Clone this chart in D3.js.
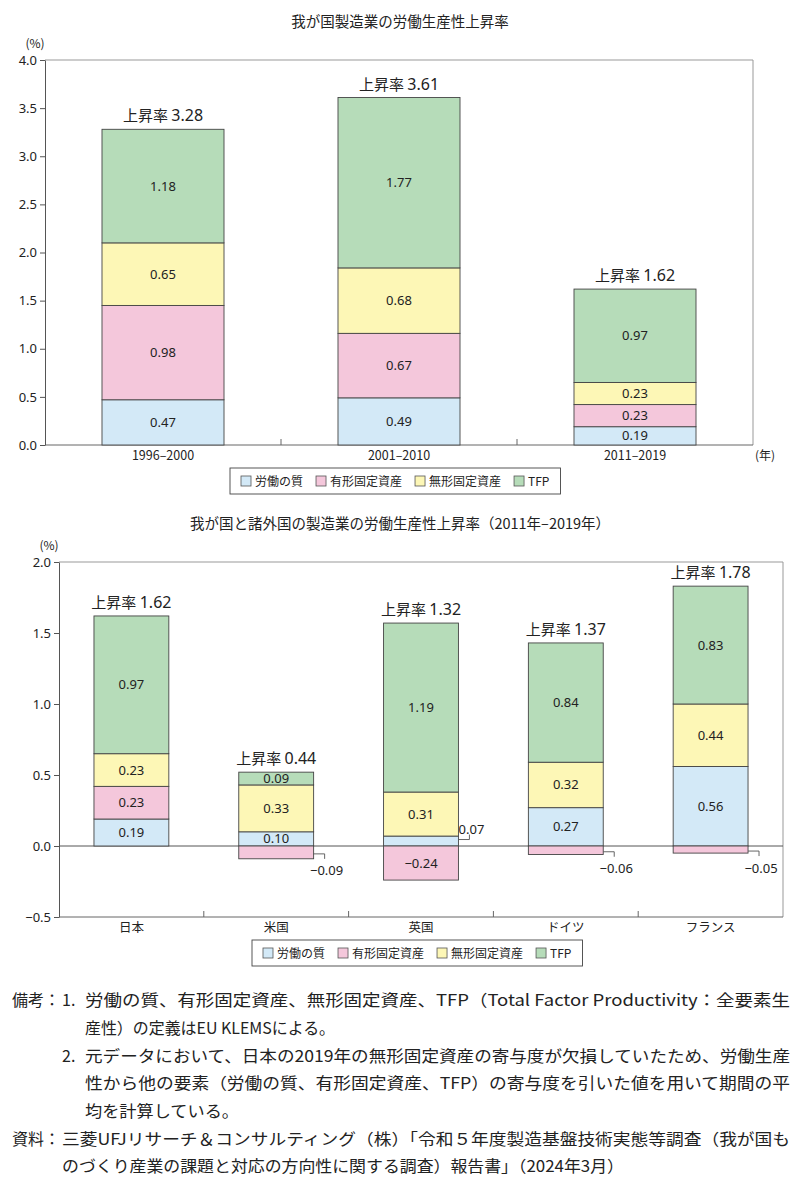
<!DOCTYPE html>
<html>
<head>
<meta charset="utf-8">
<script src="https://cdn.jsdelivr.net/npm/d3@7"></script>
<style>
  body { margin: 0; background: #fff; }
  svg text { font-family: "Noto Sans CJK JP", "Noto Sans", sans-serif; fill: #222; }
  svg .num { font-family: "Noto Sans", "DejaVu Sans", sans-serif; }
</style>
</head>
<body>
<div class="chart"></div>
<script>
let width = 800,
    height = 1181;

// series
const seriesKeys = ["labor", "tangible", "intangible", "tfp"];
const seriesNames = ["労働の質", "有形固定資産", "無形固定資産", "TFP"];
const seriesColors = ["#d3e9f7", "#f4c7db", "#fdf7b6", "#b6dcb9"];

// top chart: Japan by period
const periods = ["1996–2000", "2001–2010", "2011–2019"];
const periodLabor = [0.47, 0.49, 0.19];
const periodTangible = [0.98, 0.67, 0.23];
const periodIntangible = [0.65, 0.68, 0.23];
const periodTfp = [1.18, 1.77, 0.97];
const periodTotal = [3.28, 3.61, 1.62];
const topTicks = [0, 0.5, 1, 1.5, 2, 2.5, 3, 3.5, 4];

// bottom chart: countries 2011-2019
const countries = ["日本", "米国", "英国", "ドイツ", "フランス"];
const countryLabor = [0.19, 0.10, 0.07, 0.27, 0.56];
const countryTangible = [0.23, -0.09, -0.24, -0.06, -0.05];
const countryIntangible = [0.23, 0.33, 0.31, 0.32, 0.44];
const countryTfp = [0.97, 0.09, 1.19, 0.84, 0.83];
const countryTotal = [1.62, 0.44, 1.32, 1.37, 1.78];
const bottomTicks = [-0.5, 0, 0.5, 1, 1.5, 2];

// small segments labelled outside the bar
const callouts = [
    { cat: "米国", key: "tangible" },
    { cat: "英国", key: "labor" },
    { cat: "ドイツ", key: "tangible" },
    { cat: "フランス", key: "tangible" }
];

const notes = [
    { head: "備考：", num: "1.", text: "労働の質、有形固定資産、無形固定資産、TFP（Total Factor Productivity：全要素生", w: 705 },
    { text: "産性）の定義はEU KLEMSによる。", w: 250 },
    { num: "2.", text: "元データにおいて、日本の2019年の無形固定資産の寄与度が欠損していたため、労働生産", w: 705 },
    { text: "性から他の要素（労働の質、有形固定資産、TFP）の寄与度を引いた値を用いて期間の平", w: 705 },
    { text: "均を計算している。", w: 154 }
];
const sources = [
    { head: "資料：", text: "三菱UFJリサーチ＆コンサルティング（株）「令和５年度製造基盤技術実態等調査（我が国も", w: 728 },
    { text: "のづくり産業の課題と対応の方向性に関する調査）報告書」（2024年3月）", w: 562 }
];

function rows(cats, labor, tangible, intangible, tfp) {
    return cats.map((c, i) => ({
        cat: c, labor: labor[i], tangible: tangible[i], intangible: intangible[i], tfp: tfp[i]
    }));
}

const color = d3.scaleOrdinal().domain(seriesKeys).range(seriesColors);

const svg = d3.select(".chart").append("svg")
    .attr("width", width)
    .attr("height", height);

function drawChart(opt) {
    const data = rows(opt.cats, opt.labor, opt.tangible, opt.intangible, opt.tfp);
    const x = d3.scaleBand().domain(opt.cats)
        .range([opt.left, opt.right])
        .paddingInner(0.483).paddingOuter(0.2415);
    const y = d3.scaleLinear().domain(opt.domain).range([opt.bottom, opt.top]);
    const g = svg.append("g");

    g.append("text")
        .attr("x", 400).attr("y", opt.titleY)
        .attr("text-anchor", "middle")
        .style("font-size", "14.5px")
        .text(opt.title);

    g.append("text")
        .attr("x", opt.left - 10).attr("y", opt.top - 12)
        .attr("text-anchor", "middle")
        .style("font-size", "12px")
        .text("(%)");

    // frame
    g.append("path")
        .attr("d", `M${opt.left},${opt.top}H${opt.right}V${opt.bottom}`)
        .attr("fill", "none").attr("stroke", "#999").attr("stroke-width", 1);
    g.append("line")
        .attr("x1", opt.left).attr("x2", opt.right)
        .attr("y1", opt.bottom).attr("y2", opt.bottom)
        .attr("stroke", "#666");

    // between-category ticks
    opt.cats.slice(1).forEach(c => {
        const xx = x(c) - x.step() * x.paddingInner() / 2;
        g.append("line")
            .attr("x1", xx).attr("x2", xx)
            .attr("y1", opt.bottom).attr("y2", opt.bottom - 6)
            .attr("stroke", "#666");
    });

    // y axis
    const yAxis = g.append("g")
        .attr("transform", `translate(${opt.left},0)`)
        .call(d3.axisLeft(y).tickValues(opt.ticks).tickFormat(d3.format(".1f")).tickSize(5).tickSizeOuter(0));
    yAxis.select(".domain").attr("stroke", "#555");
    yAxis.selectAll(".tick line").attr("stroke", "#555");
    yAxis.selectAll(".tick text")
        .style("font-size", "13px")
        .style("font-family", "\"Noto Sans\", sans-serif")
        .attr("fill", "#222");

    // zero line
    if (opt.domain[0] < 0) {
        g.append("line")
            .attr("x1", opt.left).attr("x2", opt.right)
            .attr("y1", y(0)).attr("y2", y(0))
            .attr("stroke", "#555");
    }

    // category labels
    opt.cats.forEach(c => {
        g.append("text")
            .attr("x", x(c) + x.bandwidth() / 2).attr("y", opt.bottom + 15)
            .attr("text-anchor", "middle")
            .style("font-size", "12.5px")
            .text(c);
    });
    if (opt.unit) {
        g.append("text")
            .attr("x", opt.right + 12).attr("y", opt.bottom + 15)
            .attr("text-anchor", "middle")
            .style("font-size", "12px")
            .text(opt.unit);
    }

    const stacked = d3.stack().keys(seriesKeys).offset(d3.stackOffsetDiverging)(data);

    stacked.forEach(layer => {
        layer.forEach(seg => {
            const cat = seg.data.cat;
            const v = seg.data[layer.key];
            const y0 = y(Math.max(seg[0], seg[1])),
                  y1 = y(Math.min(seg[0], seg[1]));
            g.append("rect")
                .attr("x", x(cat)).attr("y", y0)
                .attr("width", x.bandwidth()).attr("height", y1 - y0)
                .attr("fill", color(layer.key))
                .attr("stroke", "#444").attr("stroke-width", 0.9);

            const fmt = v < 0 ? "−" + d3.format(".2f")(-v) : d3.format(".2f")(v);
            const isCall = callouts.some(c => c.cat === cat && c.key === layer.key);
            if (isCall) {
                const bx = x(cat) + x.bandwidth();
                const my = (y0 + y1) / 2;
                const dir = v < 0 ? 1 : -1;
                g.append("path")
                    .attr("d", `M${bx},${my + dir * 1.5}H${bx + 11}V${my + dir * 6.5}`)
                    .attr("fill", "none").attr("stroke", "#555").attr("stroke-width", 0.9);
                g.append("text")
                    .attr("class", "num")
                    .attr("x", bx + 13)
                    .attr("y", v < 0 ? my + 23 : my - 7)
                    .attr("text-anchor", "middle")
                    .style("font-size", "13px")
                    .text(fmt);
            } else {
                g.append("text")
                    .attr("class", "num")
                    .attr("x", x(cat) + x.bandwidth() / 2)
                    .attr("y", (y0 + y1) / 2 + 4.5)
                    .attr("text-anchor", "middle")
                    .style("font-size", "13px")
                    .text(fmt);
            }
        });
    });

    // totals
    opt.cats.forEach((c, i) => {
        const posTop = d3.sum(seriesKeys, k => Math.max(0, data[i][k]));
        const t = g.append("text")
            .attr("x", x(c) + x.bandwidth() / 2)
            .attr("y", y(posTop) - 8)
            .attr("text-anchor", "middle")
            .style("font-size", "15px");
        t.append("tspan").text("上昇率 ");
        t.append("tspan").attr("class", "num").style("font-size", "16px")
            .text(d3.format(".2f")(opt.total[i]));
    });

    // legend
    const lg = g.append("g");
    let lx = opt.legendX + 11;
    seriesKeys.forEach((k, i) => {
        lg.append("rect")
            .attr("x", lx).attr("y", opt.legendY + 8)
            .attr("width", 10).attr("height", 10)
            .attr("fill", color(k)).attr("stroke", "#555").attr("stroke-width", 0.8);
        const t = lg.append("text")
            .attr("x", lx + 14).attr("y", opt.legendY + 17.5)
            .style("font-size", "12px")
            .text(seriesNames[i]);
        lx += 14 + t.node().getComputedTextLength() + 13;
    });
    lg.insert("rect", ":first-child")
        .attr("x", opt.legendX).attr("y", opt.legendY)
        .attr("width", lx - opt.legendX - 2).attr("height", 26)
        .attr("fill", "#fff").attr("stroke", "#444").attr("stroke-width", 0.9);
}

drawChart({
    title: "我が国製造業の労働生産性上昇率",
    titleY: 27,
    cats: periods, labor: periodLabor, tangible: periodTangible,
    intangible: periodIntangible, tfp: periodTfp, total: periodTotal,
    domain: [0, 4], ticks: topTicks,
    left: 45, right: 753, top: 60, bottom: 445,
    unit: "(年)",
    legendX: 230, legendY: 468
});

drawChart({
    title: "我が国と諸外国の製造業の労働生産性上昇率（2011年–2019年）",
    titleY: 529,
    cats: countries, labor: countryLabor, tangible: countryTangible,
    intangible: countryIntangible, tfp: countryTfp, total: countryTotal,
    domain: [-0.5, 2], ticks: bottomTicks,
    left: 59, right: 783, top: 562, bottom: 917,
    legendX: 252, legendY: 940
});

// notes
const ng = svg.append("g").style("font-size", "16px");
let ly = 1006;
notes.forEach(n => {
    if (n.head) ng.append("text").attr("x", 12).attr("y", ly).text(n.head);
    if (n.num) ng.append("text").attr("x", 62).attr("y", ly).text(n.num);
    ng.append("text").attr("x", 85).attr("y", ly)
        .attr("textLength", n.w).attr("lengthAdjust", "spacingAndGlyphs")
        .text(n.text);
    ly += 27.8;
});
sources.forEach(n => {
    if (n.head) ng.append("text").attr("x", 12).attr("y", ly).text(n.head);
    ng.append("text").attr("x", 62).attr("y", ly)
        .attr("textLength", n.w).attr("lengthAdjust", "spacingAndGlyphs")
        .text(n.text);
    ly += 27.2;
});
</script>
</body>
</html>
